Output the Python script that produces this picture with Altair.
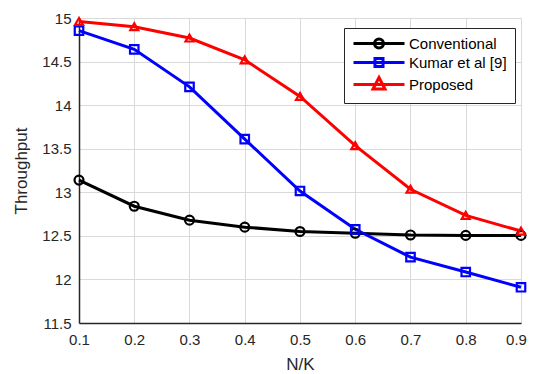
import altair as alt
import pandas as pd

x_vals = [0.1, 0.2, 0.3, 0.4, 0.5, 0.6, 0.7, 0.8, 0.9]
conventional = [13.14, 12.84, 12.68, 12.60, 12.55, 12.53, 12.51, 12.505, 12.505]
kumar = [14.855, 14.64, 14.21, 13.61, 13.015, 12.575, 12.255, 12.085, 11.91]
proposed = [14.96, 14.90, 14.77, 14.52, 14.10, 13.535, 13.035, 12.735, 12.555]
series_names = ["Conventional", "Kumar et al [9]", "Proposed"]
series_colors = ["#000000", "#0000ff", "#ff0000"]
marker_shapes = ["circle", "square", "triangle-up"]
x_ticks = [0.1, 0.2, 0.3, 0.4, 0.5, 0.6, 0.7, 0.8, 0.9]
y_ticks = [11.5, 12, 12.5, 13, 13.5, 14, 14.5, 15]

# legend glyphs: a line with the marker outline on it
# (unit = half the symbol size; the line runs from -1 to 7.5, marker at 3.25)
legend_glyphs = [
    "M-1,0H7.5M2.5,0A0.75,0.75 0 1,0 4,0A0.75,0.75 0 1,0 2.5,0Z",
    "M-1,0H7.5M2.58,-0.67H3.92V0.67H2.58Z",
    "M-1,0H7.5M3.25,-1.17L4.25,0.75L2.25,0.75Z",
]

rows = []
for name, vals in zip(series_names, [conventional, kumar, proposed]):
    for xv, yv in zip(x_vals, vals):
        rows.append({"x": xv, "y": yv, "series": name})
df = pd.DataFrame(rows)

FONT = "Liberation Sans"

xenc = alt.X(
    "x:Q",
    scale=alt.Scale(domain=[0.1, 0.9], nice=False),
    axis=alt.Axis(
        values=x_ticks,
        format=".1f",
        title="N/K",
        labelOffset={"condition": {"test": "datum.value > 0.85", "value": -5}, "value": 0},
    ),
)
yenc = alt.Y(
    "y:Q",
    scale=alt.Scale(domain=[11.5, 15], nice=False, zero=False),
    axis=alt.Axis(values=y_ticks, format="~g", title="Throughput"),
)
color = alt.Color(
    "series:N",
    scale=alt.Scale(domain=series_names, range=series_colors),
    legend=None,
)

lines = alt.Chart(df).mark_line(strokeWidth=3).encode(
    x=xenc, y=yenc, color=color, detail="series:N"
)

points = alt.Chart(df).mark_point(filled=False, strokeWidth=2.2, opacity=1).encode(
    x=xenc,
    y=yenc,
    color=color,
    shape=alt.Shape(
        "series:N",
        scale=alt.Scale(domain=series_names, range=marker_shapes),
        legend=None,
    ),
    size=alt.Size(
        "series:N",
        scale=alt.Scale(domain=series_names, range=[80, 64, 120]),
        legend=None,
    ),
)

leg = alt.Legend(
    orient="none",
    legendX=265,
    legendY=10,
    title=None,
    strokeColor="#262626",
    fillColor="white",
    padding=8,
    symbolSize=144,
    symbolStrokeWidth=3,
    symbolOpacity=1,
    labelFontSize=15,
    labelFont=FONT,
    labelColor="black",
    labelOffset=42,
    rowPadding=-2,
)

legend_layer = alt.Chart(df).mark_point(filled=False, opacity=0, size=144).encode(
    x=xenc,
    y=yenc,
    color=alt.Color(
        "series:N",
        scale=alt.Scale(domain=series_names, range=series_colors),
        legend=leg,
    ),
    shape=alt.Shape(
        "series:N",
        scale=alt.Scale(domain=series_names, range=legend_glyphs),
        legend=leg,
    ),
)

chart = (
    alt.layer(lines, points, legend_layer)
    .resolve_scale(color="independent", shape="independent", size="independent")
    .properties(
        width=442,
        height=305,
        autosize=alt.AutoSizeParams(type="none"),
        padding={"left": 71, "top": 10, "right": 6, "bottom": 50},
    )
    .configure_view(stroke=None)
    .configure_legend(strokeWidth=1)
    .configure_axis(
        labelFont=FONT,
        titleFont=FONT,
        labelFontSize=15,
        titleFontSize=17,
        titleFontWeight="normal",
        labelColor="#262626",
        titleColor="#262626",
        domainColor="#262626",
        domainWidth=1.5,
        gridColor="#d9d9d9",
        gridWidth=1,
        ticks=False,
        labelFlush=False,
    )
    .configure_axisY(titlePadding=11, labelPadding=8)
    .configure_axisX(titlePadding=9, labelPadding=9)
)

chart.save("out.html", embed_options={"renderer": "svg", "actions": False})
